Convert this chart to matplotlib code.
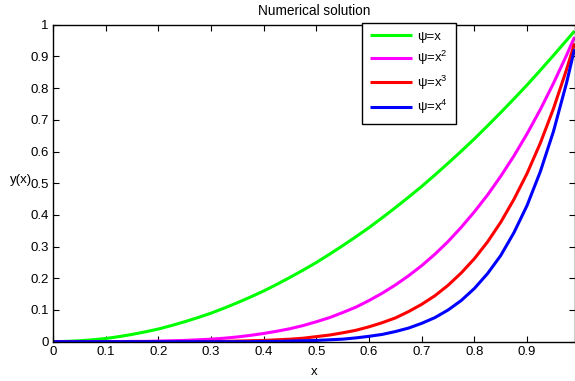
import matplotlib
matplotlib.use("Agg")
import matplotlib.pyplot as plt

plt.rcParams['font.family'] = ['Liberation Sans', 'DejaVu Sans']
plt.rcParams['mathtext.fontset'] = 'custom'
plt.rcParams['mathtext.rm'] = 'Liberation Sans'
plt.rcParams['mathtext.it'] = 'Liberation Sans'

# sample points of the numerical solution
x = [0, 0.025, 0.05, 0.075, 0.1, 0.125, 0.15, 0.175, 0.2, 0.225, 0.25,
     0.275, 0.3, 0.325, 0.35, 0.375, 0.4, 0.425, 0.45, 0.475, 0.5, 0.525,
     0.55, 0.575, 0.6, 0.625, 0.65, 0.675, 0.7, 0.725, 0.75, 0.775, 0.8,
     0.825, 0.85, 0.875, 0.9, 0.925, 0.95, 0.975, 0.99]
y_psi1 = [0, 0.001, 0.003, 0.006, 0.010, 0.016, 0.023, 0.031, 0.040, 0.051,
          0.063, 0.076, 0.090, 0.106, 0.123, 0.141, 0.160, 0.181, 0.203,
          0.226, 0.250, 0.276, 0.303, 0.331, 0.360, 0.391, 0.423, 0.456,
          0.490, 0.526, 0.563, 0.601, 0.640, 0.681, 0.723, 0.766, 0.810,
          0.856, 0.903, 0.951, 0.980]
y_psi2 = [0, 0, 0, 0, 0, 0, 0.001, 0.001, 0.002, 0.003, 0.004, 0.006, 0.008,
          0.011, 0.015, 0.020, 0.026, 0.033, 0.041, 0.051, 0.063, 0.076,
          0.092, 0.109, 0.130, 0.153, 0.179, 0.208, 0.240, 0.276, 0.316,
          0.361, 0.410, 0.463, 0.522, 0.586, 0.656, 0.732, 0.815, 0.904,
          0.961]
y_psi3 = [0, 0, 0, 0, 0, 0, 0, 0, 0, 0, 0, 0, 0.001, 0.001, 0.002, 0.003,
          0.004, 0.006, 0.008, 0.011, 0.016, 0.021, 0.028, 0.036, 0.047,
          0.060, 0.075, 0.095, 0.118, 0.145, 0.178, 0.217, 0.262, 0.315,
          0.377, 0.449, 0.531, 0.626, 0.735, 0.859, 0.941]
y_psi4 = [0, 0, 0, 0, 0, 0, 0, 0, 0, 0, 0, 0, 0, 0, 0, 0, 0.001, 0.001,
          0.002, 0.003, 0.004, 0.006, 0.008, 0.012, 0.017, 0.023, 0.032,
          0.043, 0.058, 0.076, 0.100, 0.130, 0.168, 0.215, 0.272, 0.344,
          0.430, 0.536, 0.663, 0.817, 0.923]

series = [y_psi1, y_psi2, y_psi3, y_psi4]
labels = ['ψ=x', 'ψ=x$^2$', 'ψ=x$^3$', 'ψ=x$^4$']
colors = ['#00ff00', '#ff00ff', '#ff0000', '#0000ff']

xticks = [0, 0.1, 0.2, 0.3, 0.4, 0.5, 0.6, 0.7, 0.8, 0.9]
xtick_labels = ['0', '0.1', '0.2', '0.3', '0.4', '0.5', '0.6', '0.7', '0.8', '0.9']
yticks = [0, 0.1, 0.2, 0.3, 0.4, 0.5, 0.6, 0.7, 0.8, 0.9, 1]
ytick_labels = ['0', '0.1', '0.2', '0.3', '0.4', '0.5', '0.6', '0.7', '0.8', '0.9', '1']

fs = 9.5
fig = plt.figure(figsize=(5.75, 3.81), dpi=100)
ax = fig.add_axes([53 / 575, 1 - 341.7 / 381, (574.5 - 53) / 575, (341.7 - 24.7) / 381])

for ys, lab, c in zip(series, labels, colors):
    ax.plot(x, ys, color=c, lw=2.2, label=lab, solid_capstyle='butt',
            solid_joinstyle='round')

ax.set_xlim(0, 0.99)
ax.set_ylim(0, 1)
ax.set_xticks(xticks)
ax.set_xticklabels(xtick_labels, fontsize=fs)
ax.set_yticks(yticks)
ax.set_yticklabels(ytick_labels, fontsize=fs)
ax.tick_params(direction='in', length=4, width=0.8, top=True, right=True, pad=3)
for s in ax.spines.values():
    s.set_linewidth(1.0)

ax.set_title('Numerical solution', fontsize=9.8, pad=7)
ax.set_xlabel('x', fontsize=fs, labelpad=6)
ax.set_ylabel('y(x)', fontsize=fs, rotation=0, va='center', ha='center')
ax.yaxis.set_label_coords(-0.061, 0.51)

leg = ax.legend(loc='upper left', bbox_to_anchor=(362 / 575, 1 - 22.7 / 381),
                bbox_transform=fig.transFigure, borderaxespad=0, fontsize=fs,
                handlelength=3.2, handletextpad=0.4, labelspacing=0.48,
                borderpad=0.6, fancybox=False, framealpha=1, edgecolor='black')
leg.get_frame().set_linewidth(1.0)

fig.savefig('out.png', dpi=100)
